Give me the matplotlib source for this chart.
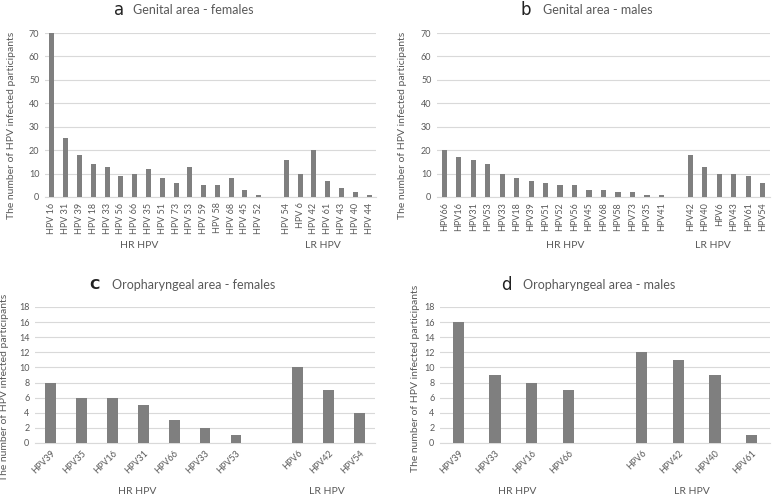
import matplotlib

matplotlib.use("Agg")

import matplotlib.pyplot as plt

# panel a - genital area, females
a_hr_labels = ["HPV 16", "HPV 31", "HPV 39", "HPV 18", "HPV 33", "HPV 56", "HPV 66", "HPV 35",
               "HPV 51", "HPV 73", "HPV 53", "HPV 59", "HPV 58", "HPV 68", "HPV 45", "HPV 52"]
a_hr_values = [70, 25, 18, 14, 13, 9, 10, 12, 8, 6, 13, 5, 5, 8, 3, 1]
a_lr_labels = ["HPV 54", "HPV 6", "HPV 42", "HPV 61", "HPV 43", "HPV 40", "HPV 44"]
a_lr_values = [16, 10, 20, 7, 4, 2, 1]

# panel b - genital area, males
b_hr_labels = ["HPV66", "HPV16", "HPV31", "HPV53", "HPV33", "HPV18", "HPV39", "HPV51",
               "HPV52", "HPV56", "HPV45", "HPV68", "HPV58", "HPV73", "HPV35", "HPV41"]
b_hr_values = [20, 17, 16, 14, 10, 8, 7, 6, 5, 5, 3, 3, 2, 2, 1, 1]
b_lr_labels = ["HPV42", "HPV40", "HPV6", "HPV43", "HPV61", "HPV54"]
b_lr_values = [18, 13, 10, 10, 9, 6]

# panel c - oropharyngeal area, females
c_hr_labels = ["HPV39", "HPV35", "HPV16", "HPV31", "HPV66", "HPV33", "HPV53"]
c_hr_values = [8, 6, 6, 5, 3, 2, 1]
c_lr_labels = ["HPV6", "HPV42", "HPV54"]
c_lr_values = [10, 7, 4]

# panel d - oropharyngeal area, males
d_hr_labels = ["HPV39", "HPV33", "HPV16", "HPV66"]
d_hr_values = [16, 9, 8, 7]
d_lr_labels = ["HPV6", "HPV42", "HPV40", "HPV61"]
d_lr_values = [12, 11, 9, 1]

W, H = 778, 497
BAR = "#7f7f7f"
GRID = "#d9d9d9"
TXT = "#595959"
plt.rcParams["font.family"] = ["Lato", "DejaVu Sans"]

fig = plt.figure(figsize=(W / 100, H / 100), dpi=100)


def px_axes(left, top, right, bottom):
    return fig.add_axes([left / W, 1 - bottom / H, (right - left) / W, (bottom - top) / H])


def panel(ax, hr_labels, hr_values, lr_labels, lr_values, ymax, ystep, rot, width):
    labels = hr_labels + [""] + lr_labels
    values = hr_values + [0] + lr_values
    xs = [i for i, lab in enumerate(labels) if lab]
    ax.bar(xs, [values[i] for i in xs], width=width, color=BAR, zorder=3)
    ax.set_xlim(-0.5, len(labels) - 0.5)
    ax.set_ylim(0, ymax)
    ax.set_yticks(range(0, ymax + 1, ystep))
    ax.yaxis.grid(True, color=GRID, linewidth=0.8, zorder=0)
    ax.set_xticks(xs)
    if rot == 90:
        ax.set_xticklabels([labels[i] for i in xs], rotation=90, ha="center", va="top")
    else:
        ax.set_xticklabels([labels[i] for i in xs], rotation=45, ha="right", va="top",
                           rotation_mode="anchor")
    ax.tick_params(axis="both", length=0, labelsize=6.5, colors=TXT, pad=4)
    for s in ["top", "right", "left"]:
        ax.spines[s].set_visible(False)
    ax.spines["bottom"].set_color(GRID)


ax_a = px_axes(45, 33, 376, 197)
panel(ax_a, a_hr_labels, a_hr_values, a_lr_labels, a_lr_values, 70, 10, 90, 0.36)
ax_b = px_axes(437, 33, 770, 197)
panel(ax_b, b_hr_labels, b_hr_values, b_lr_labels, b_lr_values, 70, 10, 90, 0.36)
ax_c = px_axes(35, 307, 375, 443)
panel(ax_c, c_hr_labels, c_hr_values, c_lr_labels, c_lr_values, 18, 2, 45, 0.35)
ax_d = px_axes(440, 307, 770, 443)
panel(ax_d, d_hr_labels, d_hr_values, d_lr_labels, d_lr_values, 18, 2, 45, 0.31)


def ftext(x, y, s, **kw):
    fig.text(x / W, 1 - y / H, s, **kw)


# titles
title_kw = dict(fontsize=9, color=TXT, va="center", ha="left")
letter_kw = dict(fontsize=12, color="#222222", va="center", ha="right",
                 family=["DejaVu Sans"])
ftext(124, 10, "a", **letter_kw)
ftext(133, 10, "Genital area - females", **title_kw)
ftext(531, 10, "b", **letter_kw)
ftext(543, 10, "Genital area - males", **title_kw)
ftext(100, 285, "C", fontsize=10, color="#222222", va="center", ha="right",
      family=["DejaVu Sans"], weight="bold")
ftext(112, 285, "Oropharyngeal area - females", **title_kw)
ftext(512, 285, "d", **letter_kw)
ftext(523, 285, "Oropharyngeal area - males", **title_kw)

# y labels
ylab = "The number of HPV infected participants"
ylab_kw = dict(fontsize=7.5, color=TXT, rotation=90, va="center", ha="center")
ftext(12, 125, ylab, **ylab_kw)
ftext(403, 125, ylab, **ylab_kw)
ftext(5, 387, ylab, **ylab_kw)
ftext(415, 378, ylab, **ylab_kw)

# group labels
grp_kw = dict(fontsize=7.5, color=TXT, va="center", ha="center")
ftext(139, 246, "HR HPV", **grp_kw)
ftext(323, 246, "LR HPV", **grp_kw)
ftext(565, 246, "HR HPV", **grp_kw)
ftext(713, 246, "LR HPV", **grp_kw)
ftext(137, 492, "HR HPV", **grp_kw)
ftext(327, 492, "LR HPV", **grp_kw)
ftext(517, 492, "HR HPV", **grp_kw)
ftext(692, 492, "LR HPV", **grp_kw)

fig.savefig("out.png", dpi=100)
